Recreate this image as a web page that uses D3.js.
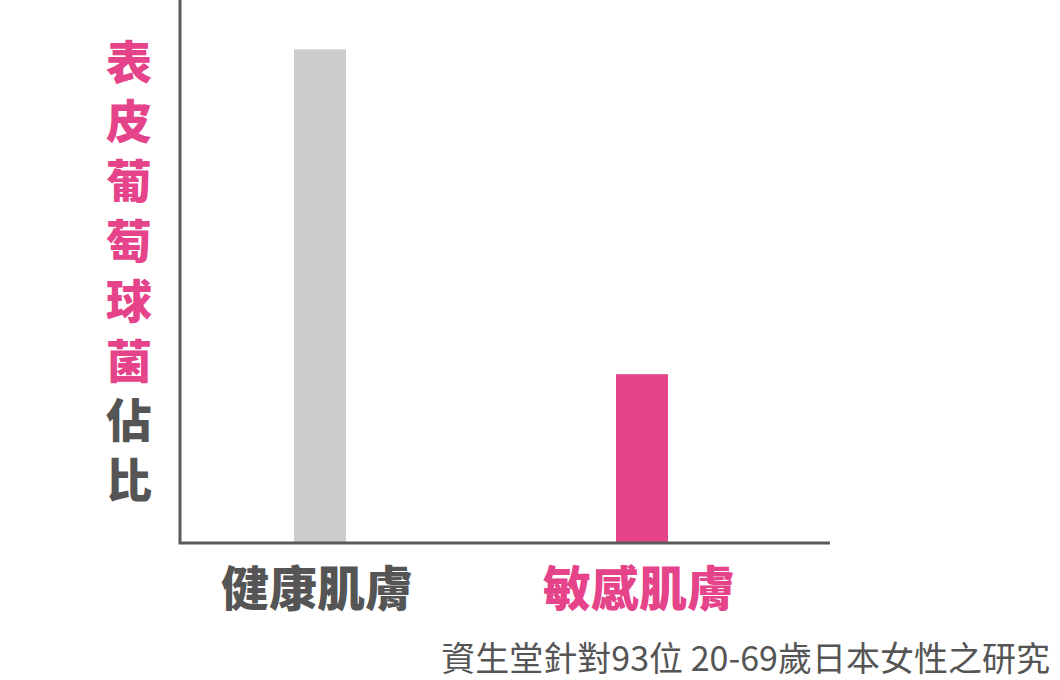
<!DOCTYPE html>
<html lang="zh-Hant">
    <head>
        <meta charset="UTF-8">
        <title>表皮葡萄球菌佔比</title>
        <script src="https://d3js.org/d3.v7.min.js"></script>
    </head>
    <style>
        body { margin: 0; background: #fff; }
        text { font-family: "Noto Sans CJK TC", "Noto Sans", sans-serif; }
        .axis-line { stroke: #5a5a5a; stroke-width: 3px; fill: none; }
    </style>
    <body>
        <svg id="chart" width="1060" height="680"></svg>
        <script>
            // data
            const categories = ["健康肌膚", "敏感肌膚"];
            const values = [100, 34.2];
            const barColors = ["#cccccc", "#e5438a"];
            const labelColors = ["#555555", "#e5438a"];
            const yTitlePink = ["表", "皮", "葡", "萄", "球", "菌"];
            const yTitleGray = ["佔", "比"];
            const note = "資生堂針對93位 20-69歲日本女性之研究";

            const svg = d3.select("#chart");

            const x = d3.scalePoint().domain(categories).range([320, 642]);
            const y = d3.scaleLinear().domain([0, 110]).range([543, 0]);
            const barW = 52;

            // bars
            svg.selectAll("rect.bar").data(categories)
                .join("rect")
                .attr("class", "bar")
                .attr("x", d => x(d) - barW / 2)
                .attr("y", (d, i) => y(values[i]))
                .attr("width", barW)
                .attr("height", (d, i) => y(0) - y(values[i]))
                .attr("fill", (d, i) => barColors[i]);

            // axes (just the two lines)
            svg.append("path")
                .attr("class", "axis-line")
                .attr("d", `M180,${y(110)} V${y(0)} H830`);

            // category labels
            svg.selectAll("text.cat").data(categories)
                .join("text")
                .attr("class", "cat")
                .attr("x", d => x(d) - 3)
                .attr("y", 606)
                .attr("text-anchor", "middle")
                .attr("font-size", 48)
                .attr("font-weight", 900)
                .attr("fill", (d, i) => labelColors[i])
                .text(d => d);

            // vertical y title, one char per line
            const titleChars = yTitlePink.map(c => ({c, col: "#e5438a"}))
                .concat(yTitleGray.map(c => ({c, col: "#555555"})));
            svg.selectAll("text.ytitle").data(titleChars)
                .join("text")
                .attr("class", "ytitle")
                .attr("x", 129)
                .attr("y", (d, i) => 62 + i * 59.8)
                .attr("dy", "0.36em")
                .attr("text-anchor", "middle")
                .attr("font-size", 46)
                .attr("font-weight", 900)
                .attr("fill", d => d.col)
                .text(d => d.c);

            // source note
            svg.append("text")
                .attr("x", 1050)
                .attr("y", 671)
                .attr("text-anchor", "end")
                .attr("font-size", 34)
                .attr("fill", "#555555")
                .text(note);
        </script>
    </body>
</html>
